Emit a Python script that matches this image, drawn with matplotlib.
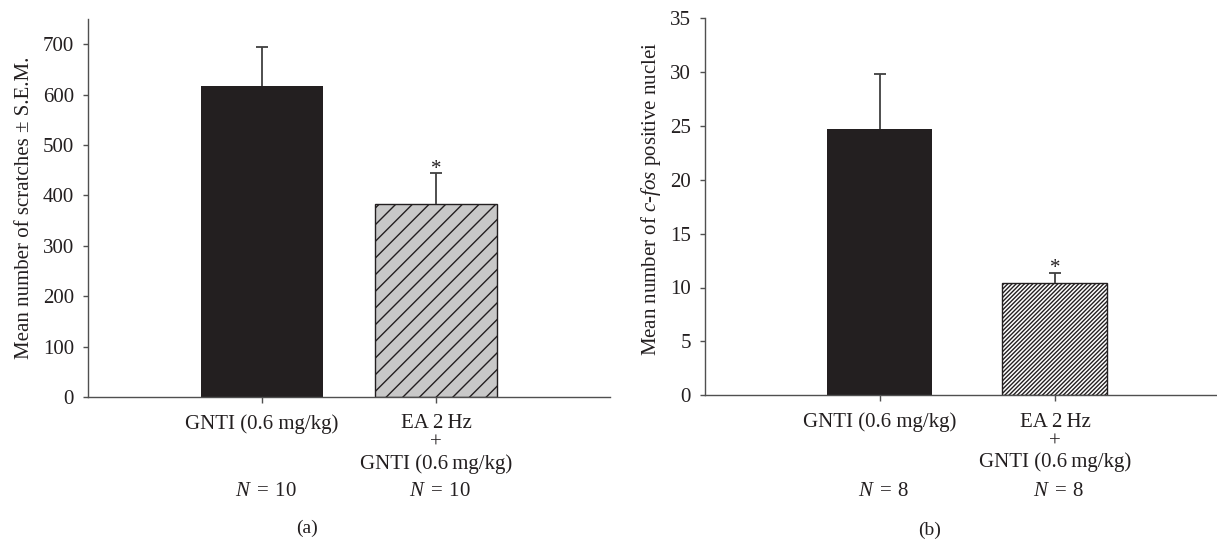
import matplotlib
matplotlib.use("Agg")
import matplotlib.pyplot as plt
from matplotlib.transforms import blended_transform_factory

# ---------------- data ----------------
categories = ["GNTI (0.6 mg/kg)", "EA 2\u2009Hz\n+\nGNTI (0.6\u2009mg/kg)"]
scratch_means = [618, 383]
scratch_sem = [77, 62]
scratch_n = [10, 10]
cfos_means = [24.7, 10.4]
cfos_sem = [5.15, 0.95]
cfos_n = [8, 8]
panel_tags = ["(a)", "(b)"]

plt.rcParams['font.family'] = ['Liberation Serif', 'DejaVu Serif']
plt.rcParams['mathtext.fontset'] = 'custom'
plt.rcParams['mathtext.rm'] = 'Liberation Serif'
plt.rcParams['mathtext.it'] = 'Liberation Serif:italic'

TXT = '#231f20'
BAR = '#231f20'
AX = '#505050'
W, H = 1217, 543
fig = plt.figure(figsize=(W / 100, H / 100), dpi=100)


def make_axes(left, bottom, width, height):
    return fig.add_axes([left / W, bottom / H, width / W, height / H])


def style(ax):
    for s in ['top', 'right']:
        ax.spines[s].set_visible(False)
    for s in ['left', 'bottom']:
        ax.spines[s].set_color(AX)
        ax.spines[s].set_linewidth(1.0)
    ax.tick_params(axis='y', direction='out', length=3.6, width=1.0, color=AX,
                   labelsize=15, labelcolor=TXT, pad=6.5)
    ax.tick_params(axis='x', direction='out', length=4, width=1.0, color=AX,
                   labelsize=15, labelcolor=TXT, pad=8.5)
    for lab in ax.get_xticklabels():
        lab.set_linespacing(1.05)


def up_errorbar(ax, xs, means, sems):
    eb = ax.errorbar(xs, means, yerr=[[0] * len(sems), sems], fmt='none',
                     ecolor='#404040', elinewidth=1.3, capsize=4, capthick=1.3)
    caps = eb[1]
    for c in caps:
        yd = list(c.get_ydata())
        if all(abs(a - b) < 1e-9 for a, b in zip(yd, means)):
            c.set_visible(False)


# ---------------- panel (a) ----------------
axa = make_axes(88, 146, 522, 378)
x = [0, 1]
b = axa.bar(x, scratch_means, width=0.7, color=[BAR, '#c8c8c8'],
            edgecolor=[BAR, BAR], linewidth=[0, 1.0])
b[1].set_hatch('//')
up_errorbar(axa, x, scratch_means, scratch_sem)
axa.text(x[1], scratch_means[1] + scratch_sem[1] - 2, '*', ha='center',
         va='baseline', fontsize=15, color=TXT)
axa.set_xlim(-1, 2)
axa.set_ylim(0, 750)
axa.set_yticks(range(0, 701, 100))
axa.set_xticks(x)
axa.set_xticklabels(categories)
axa.set_ylabel('Mean number of scratches \u00b1 S.E.M.', fontsize=15, color=TXT)
axa.yaxis.set_label_coords(-0.104, 0.5)
style(axa)

# ---------------- panel (b) ----------------
axb = make_axes(705, 147.7, 512, 377.3)
bb = axb.bar(x, cfos_means, width=0.6, color=[BAR, 'white'],
             edgecolor=[BAR, BAR], linewidth=[0, 1.0])
bb[1].set_hatch('////////')
up_errorbar(axb, x, cfos_means, cfos_sem)
axb.text(x[1], cfos_means[1] + cfos_sem[1] - 0.05, '*', ha='center',
         va='baseline', fontsize=15, color=TXT)
axb.set_xlim(-1, 1.926)
axb.set_ylim(0, 35)
axb.set_yticks(range(0, 36, 5))
axb.set_xticks(x)
axb.set_xticklabels(categories)
axb.set_ylabel('Mean number of $c$-$fos$ positive nuclei', fontsize=15, color=TXT)
axb.yaxis.set_label_coords(-0.082, 0.52)
style(axb)

# ---------------- N labels and panel tags ----------------
for ax, ns in [(axa, scratch_n), (axb, cfos_n)]:
    tr = blended_transform_factory(ax.transData, fig.transFigure)
    for xi, n in zip(x, ns):
        ax.text(xi + 0.02, 1 - 492 / H, '$N$\u2004=\u2004%d' % n, ha='center',
                va='center', fontsize=15, color=TXT, transform=tr)

fig.text(307 / W, 1 - 528 / H, panel_tags[0], ha='center', va='center',
         fontsize=14, color=TXT)
fig.text(930 / W, 1 - 530 / H, panel_tags[1], ha='center', va='center',
         fontsize=14, color=TXT)

fig.savefig('out.png', dpi=100)
